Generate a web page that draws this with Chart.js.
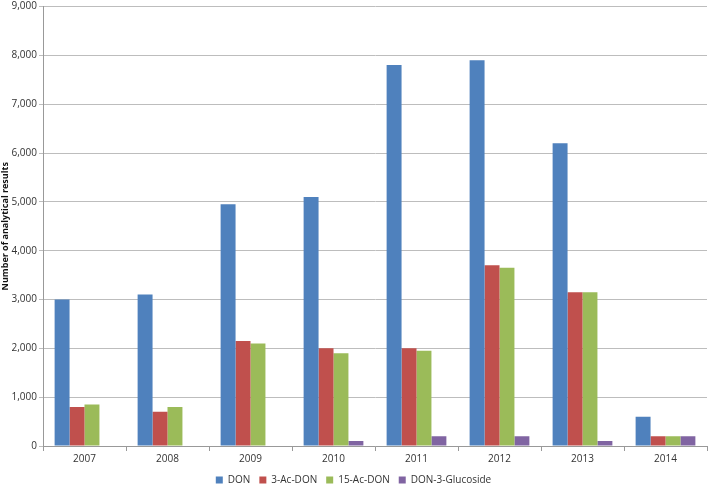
<!DOCTYPE html>
<html><head><meta charset="utf-8">
<script src="https://cdn.jsdelivr.net/npm/chart.js@4/dist/chart.umd.min.js"></script>
<style>html,body{margin:0;padding:0;background:#fff}#w{width:709px;height:486px}</style>
</head><body><div id="w"><canvas id="c" width="709" height="486"></canvas></div>
<script>
const categories = ["2007","2008","2009","2010","2011","2012","2013","2014"];
const seriesNames = ["DON","3-Ac-DON","15-Ac-DON","DON-3-Glucoside"];
const donValues = [3000,3100,4950,5100,7800,7900,6200,600];
const ac3Values = [800,700,2150,2000,2000,3700,3150,200];
const ac15Values = [850,800,2100,1900,1950,3650,3150,200];
const glucosideValues = [0,0,0,100,200,200,100,200];
const colors = ["#4F81BD","#C0504D","#9BBB59","#8064A2"];
const allValues = [donValues,ac3Values,ac15Values,glucosideValues];

new Chart(document.getElementById('c'), {
  type: 'bar',
  data: {
    labels: categories,
    datasets: seriesNames.map((n,i)=>({label:n,data:allValues[i],backgroundColor:colors[i],barPercentage:1,categoryPercentage:0.72}))
  },
  options: {
    responsive:false, animation:false,
    layout:{padding:{left:0,right:2,top:-7,bottom:-9}},
    plugins:{
      legend:{position:'bottom',labels:{boxWidth:7,boxHeight:7,font:{family:'Open Sans',size:10},color:'#333',padding:9}},
      tooltip:{enabled:false}
    },
    scales:{
      x:{grid:{display:true,drawOnChartArea:false,offset:true,color:'#999',tickLength:5},border:{color:'#999'},
         ticks:{font:{family:'Open Sans',size:10},color:'#333',padding:2},
         afterFit:s=>{s.height=20;}},
      y:{min:0,max:9000,ticks:{stepSize:1000,font:{family:'Open Sans',size:10,lineHeight:0.9},color:'#333',padding:2,
           callback:v=>v.toLocaleString('en-US')},
         grid:{color:'#bdbdbd',tickLength:4},border:{color:'#999'},
         afterFit:s=>{s.width=43;},
         title:{display:true,text:'Number of analytical results',font:{family:'Open Sans',size:9,weight:'bold'},color:'#111',padding:{top:0,bottom:0}}}
    }
  }
});
</script></body></html>
